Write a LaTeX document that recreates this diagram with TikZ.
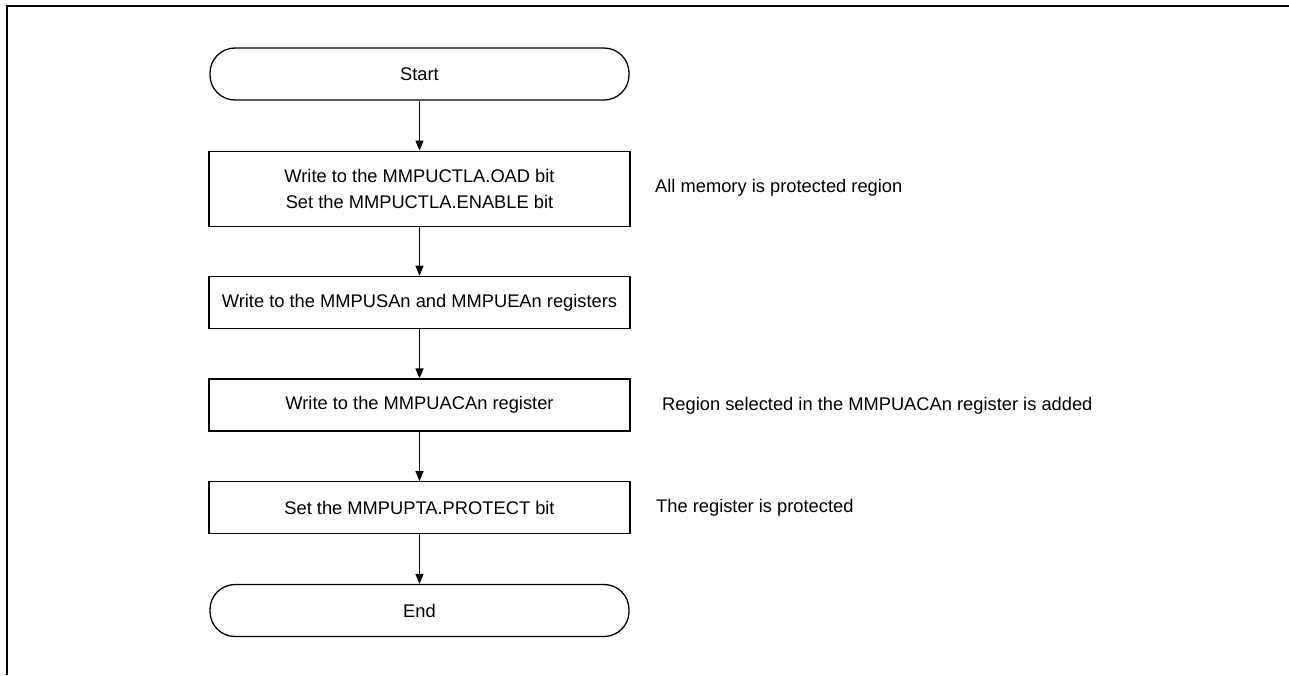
\documentclass[tikz,border=0pt]{standalone}
\usepackage{fontspec}
\setmainfont{Liberation Sans}
\usetikzlibrary{positioning,arrows.meta}

\begin{document}
\begin{tikzpicture}[x=1pt,y=-1pt,>={Triangle[length=10pt,width=8pt]},
  every node/.style={font=\fontsize{18.3}{25.7}\selectfont},
  term/.style={draw,line width=1.3pt,rounded corners=25pt,minimum width=419pt,minimum height=52pt,inner sep=0pt},
  stepbox/.style={draw,line width=1.3pt,minimum width=421pt,minimum height=52pt,inner sep=0pt,align=center},
  note/.style={anchor=west,inner sep=0pt}]
\useasboundingbox (0,0) rectangle (1289,675);
\draw[line width=2.5pt] (1289,6) -- (7,6) -- (7,675);
\node[term] (start) at (419.5,74) {Start};
\node[stepbox,minimum height=75pt] (oad) at (419.5,188.7) {Write to the MMPUCTLA.OAD bit\\Set the MMPUCTLA.ENABLE bit};
\node[stepbox] (range) at (419.5,302.3) {Write to the MMPUSAn and MMPUEAn registers};
\node[stepbox] (acc) at (419.5,405) {Write to the MMPUACAn register};
\node[stepbox] (prot) at (419.5,507.8) {Set the MMPUPTA.PROTECT bit};
\node[term] (stop) at (419.5,610.5) {End};
\node[note] (n1) at (655,188) {All memory is protected region};
\node[note] (n2) at (662,406) {Region selected in the MMPUACAn register is added};
\node[note] (n3) at (656,508) {The register is protected};
\foreach \a/\b in {start/oad,oad/range,range/acc,acc/prot,prot/stop}
  \draw[->,line width=1.3pt] (\a) -- (\b);
\end{tikzpicture}
\end{document}
